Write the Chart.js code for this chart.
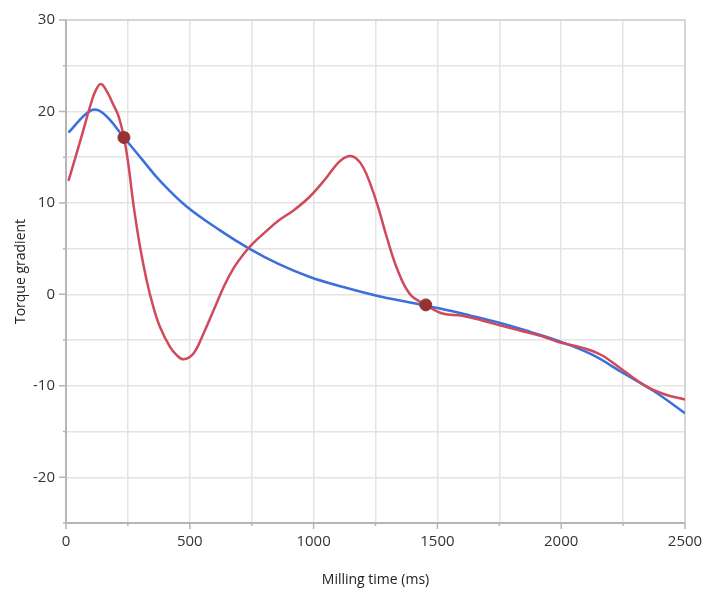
<!DOCTYPE html>
<html>
<head>
<meta charset="utf-8">
<script src="https://cdn.jsdelivr.net/npm/chart.js@4.4.1/dist/chart.umd.min.js"></script>
<style>
  html, body { margin: 0; padding: 0; background: #fff; }
  #wrap { width: 709px; height: 593px; }
</style>
</head>
<body>
<div id="wrap"><canvas id="chart"></canvas></div>
<script>
// measured torque gradient (red)
const measuredTime = [10, 60, 100, 120, 141, 165, 190, 212, 234, 253, 272, 299, 326, 353, 380, 420, 447, 474, 514,
  555, 600, 640, 680, 720, 760, 800, 860, 920, 985, 1050, 1100, 1140, 1170, 1200, 1230, 1260, 1295, 1340, 1390, 1453,
  1520, 1600, 1680, 1760, 1840, 1920, 2000, 2080, 2160, 2250, 2340, 2420, 2500];
const measured = [12.4, 17.0, 20.8, 22.3, 23.0, 22.2, 20.8, 19.5, 17.15, 14.0, 9.9, 5.2, 1.5, -1.4, -3.6, -5.75,
  -6.65, -7.1, -6.5, -4.3, -1.5, 1.0, 3.0, 4.5, 5.7, 6.7, 8.1, 9.2, 10.7, 12.7, 14.4, 15.1, 14.9, 13.9, 12.0, 9.6,
  6.3, 2.6, 0.0, -1.15, -2.1, -2.35, -2.85, -3.45, -4.0, -4.55, -5.3, -5.8, -6.6, -8.3, -10.0, -10.95, -11.5];
// fitted torque gradient (blue)
const fittedTime = [10, 100, 150, 234, 312, 380, 487, 622, 740, 860, 985, 1120, 1255, 1390, 1510, 1630, 1750, 1875,
  2000, 2125, 2250, 2375, 2500];
const fitted = [17.7, 20.1, 19.8, 17.15, 14.6, 12.4, 9.6, 7.0, 5.0, 3.3, 1.9, 0.8, -0.15, -0.9, -1.55, -2.3, -3.1,
  -4.1, -5.2, -6.6, -8.6, -10.6, -13.0];
// intersection points
const crossX = [234, 1453];
const crossY = [17.15, -1.15];

const xMin = 0, xMax = 2500, xStep = 250;
const yMin = -25, yMax = 30, yStep = 5;

const toPoints = (xs, ys) => xs.map((x, i) => ({x: x, y: ys[i]}));

// frame on top/right and short tick marks (long at labelled ticks)
const frameAndTicks = {
  id: 'frameAndTicks',
  beforeDatasetsDraw(chart) {
    const {ctx, chartArea: a, scales: {x, y}} = chart;
    ctx.save();
    ctx.strokeStyle = '#cfcfcf';
    ctx.lineWidth = 1.5;
    ctx.beginPath();
    ctx.moveTo(a.left, a.top);
    ctx.lineTo(a.right, a.top);
    ctx.lineTo(a.right, a.bottom);
    ctx.stroke();
    ctx.strokeStyle = '#b5b5b5';
    ctx.lineWidth = 1.5;
    ctx.beginPath();
    x.ticks.forEach(t => {
      const px = x.getPixelForValue(t.value);
      const len = t.value % 500 === 0 ? 6 : 3;
      ctx.moveTo(px, a.bottom);
      ctx.lineTo(px, a.bottom + len);
    });
    y.ticks.forEach(t => {
      const py = y.getPixelForValue(t.value);
      const len = t.value % 10 === 0 ? 7 : 3;
      ctx.moveTo(a.left, py);
      ctx.lineTo(a.left - len, py);
    });
    ctx.stroke();
    ctx.restore();
  }
};

new Chart(document.getElementById('chart'), {
  type: 'scatter',
  data: {
    datasets: [
      {
        data: toPoints(crossX, crossY),
        pointRadius: 6,
        pointHoverRadius: 6,
        pointBackgroundColor: '#983232',
        pointBorderColor: '#983232',
        showLine: false,
        order: 0
      },
      {
        data: toPoints(fittedTime, fitted),
        showLine: true,
        borderColor: '#3b6fdc',
        borderWidth: 2.5,
        pointRadius: 0,
        tension: 0.4,
        order: 2
      },
      {
        data: toPoints(measuredTime, measured),
        showLine: true,
        borderColor: '#d04a5a',
        borderWidth: 2.5,
        pointRadius: 0,
        tension: 0.4,
        order: 1
      }
    ]
  },
  options: {
    responsive: true,
    maintainAspectRatio: false,
    animation: false,
    layout: {padding: {top: 20, right: 24, bottom: 0, left: 0}},
    plugins: {
      legend: {display: false},
      tooltip: {enabled: false}
    },
    scales: {
      x: {
        type: 'linear',
        min: xMin,
        max: xMax,
        afterFit: s => { s.height = 70; s.paddingLeft = 0; s.paddingRight = 0; },
        border: {color: '#b5b5b5', width: 2},
        grid: {color: '#e4e4e4', lineWidth: 1.5, drawTicks: false},
        ticks: {
          stepSize: xStep,
          padding: 10,
          maxRotation: 0,
          autoSkip: false,
          color: '#333',
          font: {family: 'Open Sans', size: 15},
          callback: v => v % 500 === 0 ? v : ''
        },
        title: {
          display: true,
          text: 'Milling time (ms)',
          color: '#222',
          font: {family: 'Open Sans', size: 14},
          padding: {top: 0, bottom: 5}
        }
      },
      y: {
        min: yMin,
        max: yMax,
        afterFit: s => { s.width = 66; s.paddingTop = 0; s.paddingBottom = 0; },
        border: {color: '#b5b5b5', width: 2},
        grid: {color: '#e4e4e4', lineWidth: 1.5, drawTicks: false},
        ticks: {
          stepSize: yStep,
          padding: 11,
          autoSkip: false,
          color: '#333',
          font: {family: 'Open Sans', size: 15},
          callback: v => v % 10 === 0 ? v : ''
        },
        title: {
          display: true,
          text: 'Torque gradient',
          color: '#222',
          font: {family: 'Open Sans', size: 14},
          padding: {top: 13, bottom: 0}
        }
      }
    }
  },
  plugins: [frameAndTicks]
});
</script>
</body>
</html>
